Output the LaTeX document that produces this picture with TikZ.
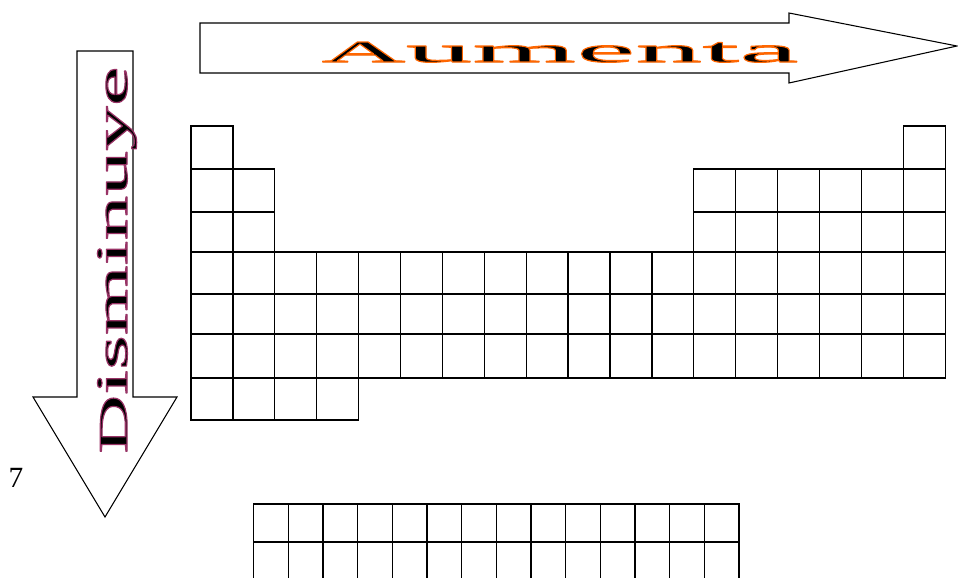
\documentclass[tikz,border=0pt]{standalone}
\usepackage{fontspec}
\setmainfont{Liberation Serif}
\newfontfamily\wideserif[FakeStretch=3.85]{Liberation Serif}
\newfontfamily\tallserif[FakeStretch=2.0]{Liberation Serif}
\definecolor{ink}{HTML}{000000}
\definecolor{artorange}{HTML}{FF6600}
\definecolor{artplum}{HTML}{993366}
\tikzset{
  cellbox/.style={draw=ink,line width=1pt},
  bigarrow/.style={draw=ink,fill=white,line width=0.8pt,line join=miter},
  arttext/.style={inner sep=0pt,text=ink}
}
% black letters with a coloured rim (#1 rim rgb, #2 rim width)
\newcommand\rimtext[3]{%
  \special{pdf:code 2 Tr #2 w 1 j #1 RG}#3\special{pdf:code 0 Tr}}

\begin{document}
\begin{tikzpicture}[x=0.75pt,y=-0.75pt]
  \useasboundingbox (0,0) rectangle (958,578);

  % arrow to the right
  \draw[bigarrow] (200,23) -- (789,23) -- (789,13) -- (957,46) -- (789,83)
    -- (789,73) -- (200,73) -- cycle;
  \node[arttext,anchor=base] (aumenta) at (560,62)
    {\rimtext{1 0.4 0}{0.9}{\wideserif\fontsize{22.7}{24}\selectfont A%
      \fontsize{26}{24}\selectfont umenta}};

  % arrow downwards
  \draw[bigarrow] (77,51) -- (133,51) -- (133,397) -- (177,397) -- (105,517)
    -- (33,397) -- (77,397) -- cycle;
  \node[arttext,anchor=base,rotate=90] (disminuye) at (127,260)
    {\rimtext{0.6 0.2 0.4}{0.9}{\tallserif\fontsize{30.6}{32}\selectfont D%
      \fontsize{33.6}{32}\selectfont isminuye}};

  \node[inner sep=0pt,anchor=base,font=\fontsize{22}{24}\selectfont] (seven) at (16,487) {7};

  % main block
  \foreach \yt/\yb/\cols in {126/169/{1,18},169/212/{1,2,13,14,15,16,17,18},
      212/252/{1,2,13,14,15,16,17,18},252/294/{1,...,18},294/334/{1,...,18},
      334/378/{1,...,18},378/420/{1,2,3,4}} {
    \foreach \c in \cols {
      \draw[cellbox] ({191+41.9*(\c-1)},\yt) rectangle ++(41.9,{\yb-\yt});
    }
  }

  % two rows below
  \foreach \yt/\yb in {504/542,542/581} {
    \foreach \c in {1,...,14} {
      \draw[cellbox] ({253.7+34.66*(\c-1)},\yt) rectangle ++(34.66,{\yb-\yt});
    }
  }
\end{tikzpicture}
\end{document}
